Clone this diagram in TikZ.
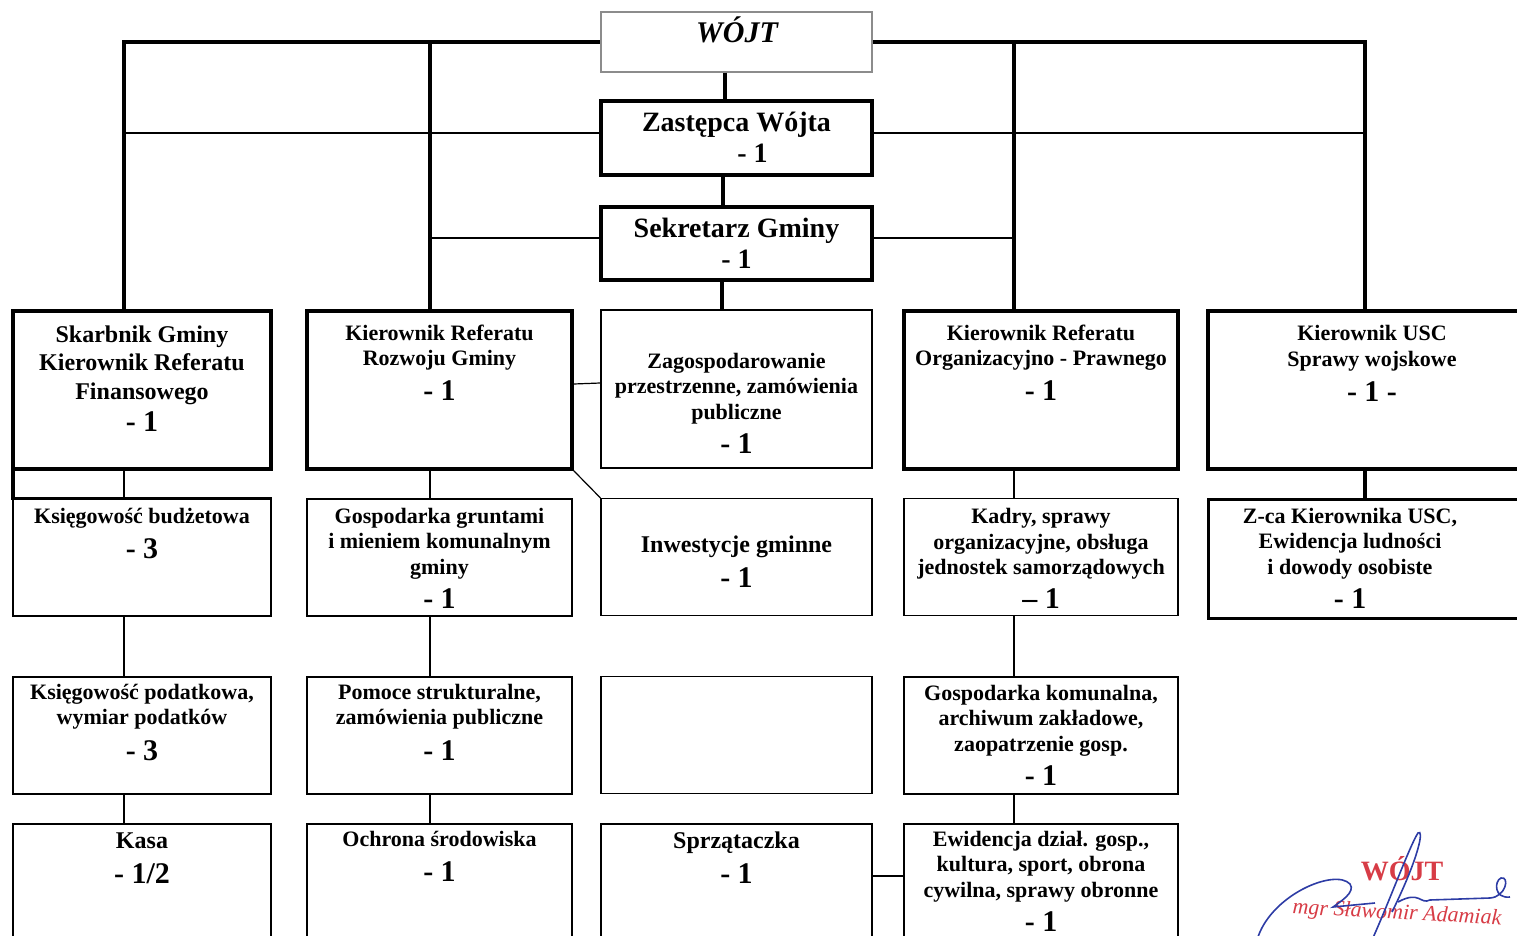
\documentclass[tikz,border=0pt]{standalone}
\usepackage{fontspec}
\setmainfont{Liberation Serif}
\usetikzlibrary{positioning}
\definecolor{pieczec}{RGB}{215,60,70}
\definecolor{atrament}{RGB}{45,60,165}
\newcommand{\ile}[1]{{\fontsize{15}{15}\selectfont #1}}

\begin{document}
\begin{tikzpicture}[x=0.5pt, y=-0.5pt,
	thin box/.style={draw, line width=0.6pt, inner sep=0pt, minimum height=58.5pt},
	thick box/.style={draw, line width=1.8pt, inner sep=0pt},
	box text/.style={align=center, inner sep=0pt, font=\bfseries\fontsize{11}{12.75}\selectfont},
	thick line/.style={line width=1.6pt},
	thin line/.style={line width=0.6pt}]

	\useasboundingbox (0,0) rectangle (1517,936);
	\clip (0,0) rectangle (1517,936);

	% kierownictwo
	\node[draw=black!45, line width=0.6pt, minimum width=135.5pt, minimum height=30pt] (wojt) at (736.5,42) {};
	\node[thick box, minimum width=135.5pt, minimum height=37pt] (zast) at (736.5,138) {};
	\node[thick box, minimum width=135.5pt, minimum height=36.5pt] (sekr) at (736.5,243.5) {};

	% pierwszy rzad
	\node[thick box, minimum width=129pt, minimum height=79pt] (skarb) at (142,390) {};
	\node[thick box, minimum width=132.5pt, minimum height=79pt] (rozw) at (439.5,390) {};
	\node[thin box, minimum width=135.5pt, minimum height=79pt] (zagosp) at (736.5,389) {};
	\node[thick box, minimum width=137pt, minimum height=79pt] (organ) at (1041,390) {};
	\node[thick box, minimum width=157pt, minimum height=79pt] (usc) at (1365,390) {};

	% drugi rzad
	\node[thin box, minimum width=129pt] (ksbud) at (142,557.5) {};
	\node[thin box, minimum width=132.5pt] (grunt) at (439.5,557.5) {};
	\node[thin box, minimum width=135.5pt] (inwest) at (736.5,557) {};
	\node[thin box, minimum width=137pt] (kadry) at (1041,557) {};
	\node[thick box, line width=1.5pt, minimum width=157pt, minimum height=59pt] (zcausc) at (1365,559) {};

	% trzeci rzad
	\node[thin box, minimum width=129pt] (kspod) at (142,735.5) {};
	\node[thin box, minimum width=132.5pt] (pomoc) at (439.5,735.5) {};
	\node[thin box, minimum width=135.5pt] (pusty) at (736.5,735) {};
	\node[thin box, minimum width=137pt] (gkom) at (1041,735.5) {};

	% czwarty rzad
	\node[thin box, minimum width=129pt, minimum height=68pt] (kasa) at (142,892) {};
	\node[thin box, minimum width=132.5pt, minimum height=68pt] (ochrona) at (439.5,892) {};
	\node[thin box, minimum width=135.5pt, minimum height=68pt] (sprzat) at (736.5,892) {};
	\node[thin box, minimum width=137pt, minimum height=68pt] (ewid) at (1041,892) {};

	% napisy
	\node[inner sep=0pt, anchor=base, font=\bfseries\itshape\fontsize{15}{15}\selectfont] (wojtT) at (737,43) {WÓJT};
	\node[box text, font=\bfseries\fontsize{14}{15.5}\selectfont, below=6pt of zast.north] (zastT) {Zastępca Wójta\\\hspace*{16pt}- 1};
	\node[box text, font=\bfseries\fontsize{14}{15.5}\selectfont, below=6pt of sekr.north] (sekrT) {Sekretarz Gminy\\- 1};

	\node[box text, font=\bfseries\fontsize{12}{14.25}\selectfont, below=8pt of skarb.north] (skarbT) {Skarbnik Gminy\\Kierownik Referatu\\Finansowego\\[2pt]\ile{- 1}};
	\node[box text, below=7.5pt of rozw.north] (rozwT) {Kierownik Referatu\\Rozwoju Gminy\\[4.5pt]\ile{- 1}};
	\node[box text, below=21.5pt of zagosp.north] (zagospT) {Zagospodarowanie\\przestrzenne, zamówienia\\publiczne\\[4.5pt]\ile{- 1}};
	\node[box text, below=7.5pt of organ.north] (organT) {Kierownik Referatu\\Organizacyjno - Prawnego\\[4.5pt]\ile{- 1}};
	\node[box text, below=8pt of usc.north, xshift=3.5pt] (uscT) {Kierownik USC\\Sprawy wojskowe\\[5pt]\ile{- 1 -}};

	\node[box text, below=4.5pt of ksbud.north] (ksbudT) {Księgowość budżetowa\\[5pt]\ile{- 3}};
	\node[box text, below=4.5pt of grunt.north] (gruntT) {Gospodarka gruntami\\i mieniem komunalnym\\gminy\\[4.5pt]\ile{- 1}};
	\node[box text, font=\bfseries\fontsize{12}{14}\selectfont, below=19pt of inwest.north] (inwestT) {Inwestycje gminne\\[3.5pt]\ile{- 1}};
	\node[box text, below=5pt of kadry.north] (kadryT) {Kadry, sprawy\\organizacyjne, obsługa\\jednostek samorządowych\\[4pt]\ile{– 1}};
	\node[box text, below=4.5pt of zcausc.north, xshift=-7.5pt] (zcauscT) {Z-ca Kierownika USC,\\Ewidencja ludności\\i dowody osobiste\\[4.5pt]\ile{- 1}};

	\node[box text, below=3.5pt of kspod.north] (kspodT) {Księgowość podatkowa,\\wymiar podatków\\[5pt]\ile{- 3}};
	\node[box text, below=3.5pt of pomoc.north] (pomocT) {Pomoce strukturalne,\\zamówienia publiczne\\[5pt]\ile{- 1}};
	\node[box text, below=4pt of gkom.north] (gkomT) {Gospodarka komunalna,\\archiwum zakładowe,\\zaopatrzenie gosp.\\[4.5pt]\ile{- 1}};

	\node[box text, font=\bfseries\fontsize{12}{14}\selectfont, below=4.5pt of kasa.north] (kasaT) {Kasa\\[3.5pt]\ile{- 1/2}};
	\node[box text, below=3.5pt of ochrona.north] (ochronaT) {Ochrona środowiska\\[5pt]\ile{- 1}};
	\node[box text, font=\bfseries\fontsize{12}{14}\selectfont, below=4pt of sprzat.north] (sprzatT) {Sprzątaczka\\[3.5pt]\ile{- 1}};
	\node[box text, below=3.5pt of ewid.north] (ewidT) {Ewidencja dział. gosp.,\\kultura, sport, obrona\\cywilna, sprawy obronne\\[4.5pt]\ile{- 1}};

	% polaczenia
	\coordinate (skarbin) at (124,311);
	\coordinate (rozwin) at (430,311);
	\coordinate (orgin) at (1014,311);

	\draw[thick line] (skarbin) |- (wojt.west);
	\draw[thick line] (rozwin) -- (rozwin |- wojt.west);
	\draw[thick line] (usc.north) |- (wojt.east);
	\draw[thick line] (orgin) -- (orgin |- wojt.east);

	\draw[thick line] ([xshift=-5.75pt]wojt.south) -- ([xshift=-5.75pt]zast.north);
	\draw[thick line] ([xshift=-6.75pt]zast.south) -- ([xshift=-6.75pt]sekr.north);
	\draw[thick line] ([xshift=-7.25pt]sekr.south) -- ([xshift=-7.25pt]zagosp.north);

	\draw[thin line] ([yshift=2.5pt]zast.west) -- ([yshift=2.5pt]zast.west -| skarbin);
	\draw[thin line] ([yshift=2.5pt]zast.east) -- ([yshift=2.5pt]zast.east -| usc.north);
	\draw[thin line] ([yshift=2.75pt]sekr.west) -- ([yshift=2.75pt]sekr.west -| rozwin);
	\draw[thin line] ([yshift=2.75pt]sekr.east) -- ([yshift=2.75pt]sekr.east -| orgin);
	\draw[thin line] ([yshift=3pt]rozw.east) -- ([yshift=3pt]zagosp.west);
	\draw[thin line] (rozw.south east) -- (inwest.north west);

	\draw[thick line] ([xshift=0.9pt]skarb.south west) -- ([xshift=0.9pt]skarb.south west |- ksbud.north) -- (ksbud.north east);
	\draw[thick line] (usc.south) -- (zcausc.north);
	\foreach \a/\b/\c in {skarb/ksbud/skarbin, ksbud/kspod/skarbin, kspod/kasa/skarbin,
		rozw/grunt/rozwin, grunt/pomoc/rozwin, pomoc/ochrona/rozwin,
		organ/kadry/orgin, kadry/gkom/orgin, gkom/ewid/orgin}
		\draw[thin line] (\a.south -| \c) -- (\b.north -| \c);
	\draw[line width=1.2pt] ([yshift=8pt]sprzat.east) -- ([yshift=8pt]ewid.west);

	% pieczec i podpis
	\node[text=pieczec, inner sep=0pt, anchor=base, font=\bfseries\fontsize{14}{14}\selectfont] (pieczecW) at (1402,880) {WÓJT};
	\node[text=pieczec, inner sep=0pt, rotate=-3, font=\itshape\fontsize{11}{11}\selectfont] (pieczecN) at (1397,914) {mgr Sławomir Adamiak};
	\draw[atrament, line width=0.8pt] (1257,940) .. controls (1270,895) and (1335,868) .. (1350,884) .. controls (1356,892) and (1340,902) .. (1333,907) -- (1375,903);
	\draw[atrament, line width=0.8pt] (1372,940) .. controls (1390,900) and (1410,845) .. (1418,833) .. controls (1424,828) and (1420,855) .. (1392,912);
	\draw[atrament, line width=0.8pt] (1398,902) .. controls (1420,890) and (1420,905) .. (1430,900) -- (1490,898) .. controls (1506,897) and (1510,876) .. (1501,878) .. controls (1494,881) and (1494,899) .. (1510,897);

\end{tikzpicture}
\end{document}
